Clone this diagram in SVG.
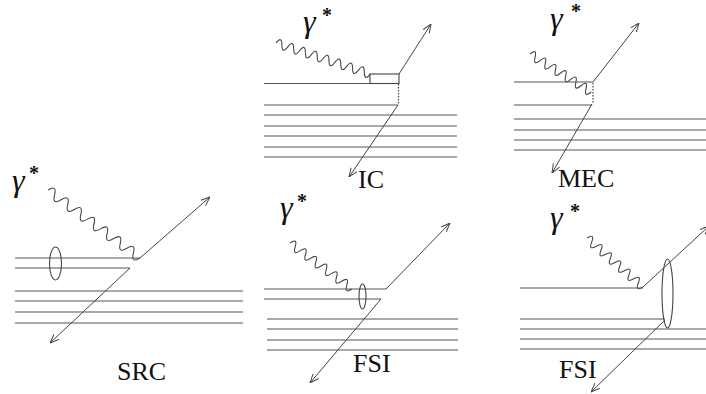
<svg xmlns="http://www.w3.org/2000/svg" width="706" height="394" viewBox="0 0 706 394">
<style>
.ln{stroke:#555;stroke-width:1.2;fill:none}
.ar{stroke:#444;stroke-width:1;fill:none;marker-end:url(#ah)}
.wv{stroke:#444;stroke-width:1.1;fill:none}
.el{stroke:#444;stroke-width:1.1;fill:none}
.dt{stroke:#444;stroke-width:1.2;stroke-dasharray:1.5 1.5;fill:none}
.g{font-family:"Liberation Serif",serif;font-style:italic;font-size:32px;fill:#111}
.s{font-family:"Liberation Serif",serif;font-size:20px;font-weight:bold;fill:#111}
.lb{font-family:"Liberation Serif",serif;font-size:26px;fill:#111}
</style>
<defs>
<marker id="ah" viewBox="0 0 10 10" refX="10" refY="5" markerWidth="9" markerHeight="9" markerUnits="userSpaceOnUse" orient="auto">
<path d="M0,1 L10,5 L0,9" fill="none" stroke="#444" stroke-width="1.1"/>
</marker>
</defs>
<g id="src">
<text class="g" x="12" y="191">γ</text><text class="s" x="29" y="180">*</text>
<path class="wv" transform="translate(48,190) rotate(36.47)" d="M0 0 q4.08 -10 8.17 0 t8.17 0 t8.17 0 t8.17 0 t8.17 0 t8.17 0 t8.17 0 t8.17 0 t8.17 0 t8.17 0 t8.17 0 t8.17 0 t8.17 0 t8.17 0"/>
<path class="ln" d="M15 258H140M15 268H130M15 291H243M15 301H243M15 312H243M15 323H243"/>
<ellipse class="el" cx="55.5" cy="263.5" rx="6" ry="16.5"/>
<text class="lb" x="117" y="380">SRC</text>
</g>
<g id="ic">
<text class="g" x="303" y="32">γ</text><text class="s" x="322" y="22">*</text>
<path class="wv" transform="translate(276,43) rotate(18.25)" d="M0 0 q3.1 -9 6.2 0 t6.2 0 t6.2 0 t6.2 0 t6.2 0 t6.2 0 t6.2 0 t6.2 0 t6.2 0 t6.2 0 t6.2 0 t6.2 0 t6.2 0 t6.2 0 t6.2 0 t6.2 0"/>
<rect class="el" x="370" y="74" width="29" height="9.5"/>
<path class="ln" d="M264 83.5H370M264 105H398M264 115H457M264 126H457M264 136H457M264 147H457M264 157H457"/>
<path class="dt" d="M398.5 84V105"/>
<text class="lb" x="358" y="188">IC</text>
</g>
<g id="mec">
<text class="g" x="550" y="29">γ</text><text class="s" x="571" y="18">*</text>
<path class="wv" transform="translate(530,54) rotate(31.9)" d="M0 0 q3 -9 6 0 t6 0 t6 0 t6 0 t6 0 t6 0 t6 0 t6 0 t6 0 t6 0 t6 0 t6 0"/>
<path class="ln" d="M514 82H593M514 105H592M514 119H706M514 130H706M514 140H706M514 150H706"/>
<path class="dt" d="M593 83V104"/>
<text class="lb" x="558" y="187">MEC</text>
</g>
<g id="fsi1">
<text class="g" x="280" y="218">γ</text><text class="s" x="297" y="208">*</text>
<path class="wv" transform="translate(290,243) rotate(36.57)" d="M0 0 q3.2 -9 6.43 0 t6.43 0 t6.43 0 t6.43 0 t6.43 0 t6.43 0 t6.43 0 t6.43 0 t6.43 0 t6.43 0 t6.43 0 t6.43 0"/>
<path class="ln" d="M264 289H386M264 299H381M267 319H458M267 329H458M267 340H458M267 350H458"/>
<ellipse class="el" cx="362.5" cy="296.5" rx="3.5" ry="12.5"/>
<text class="lb" x="353" y="372">FSI</text>
</g>
<g id="fsi2">
<text class="g" x="550" y="228">γ</text><text class="s" x="570" y="218">*</text>
<path class="wv" transform="translate(587,238) rotate(41.19)" d="M0 0 q3.1 -9 6.2 0 t6.2 0 t6.2 0 t6.2 0 t6.2 0 t6.2 0 t6.2 0 t6.2 0 t6.2 0 t6.2 0 t6.2 0 t6.2 0"/>
<path class="ln" d="M520 288H643M520 319H665M520 329H706M520 339H706M520 349H706"/>
<ellipse class="el" cx="667.5" cy="293.5" rx="5.5" ry="34.5"/>
<text class="lb" x="559" y="378">FSI</text>
</g>
<g id="connectors">
<path class="ar" d="M140 258L210 197"/>
<path class="ar" d="M130 268L50 343"/>
<path class="ar" d="M399 74L431 24"/>
<path class="ar" d="M398 105L349 177"/>
<path class="ar" d="M593 82L639 23"/>
<path class="ar" d="M592 104L552 173"/>
<path class="ar" d="M386 289L450 223"/>
<path class="ar" d="M381 299L310 383"/>
<path class="ar" d="M643 287L709 226"/>
<path class="ar" d="M665 320L591 392"/>
</g>
</svg>
